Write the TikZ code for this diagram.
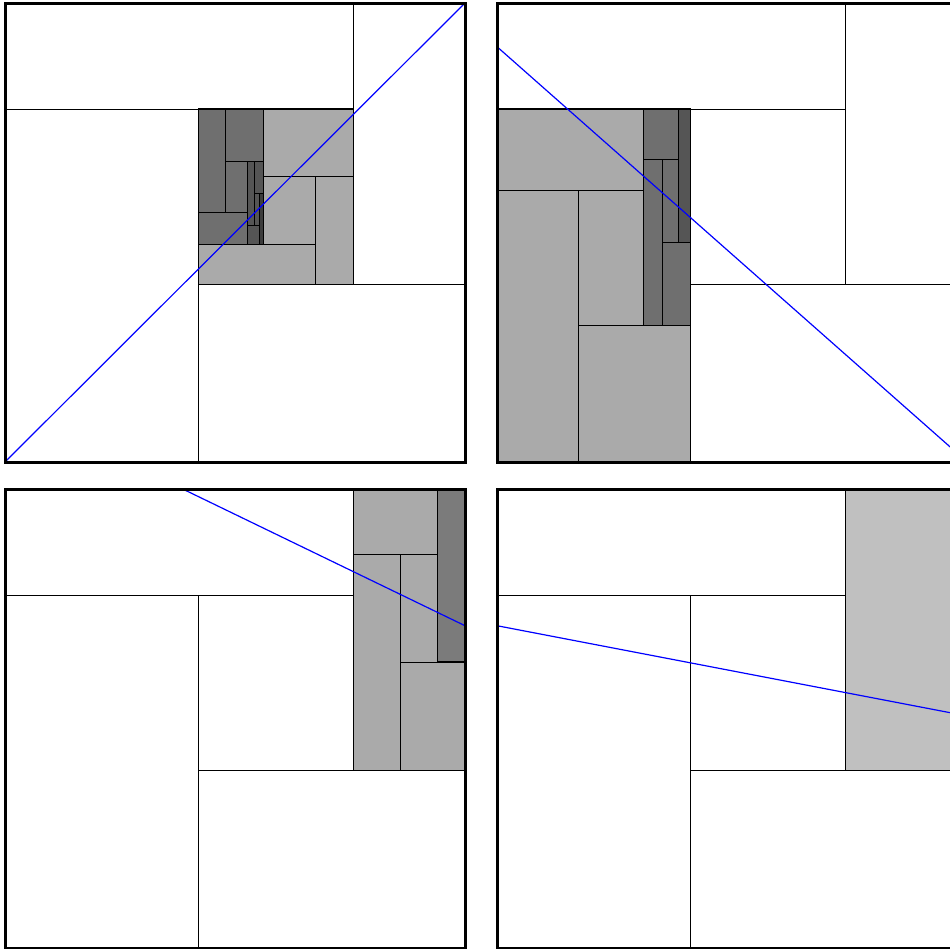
\documentclass[tikz,border=0pt]{standalone}
\usepackage{tikz}
\definecolor{ShadeOne}{RGB}{170,170,170}
\definecolor{ShadeTwo}{RGB}{111,111,111}
\definecolor{ShadeThree}{RGB}{85,85,85}
\definecolor{ShadeFour}{RGB}{60,60,60}
\definecolor{ShadeSide}{RGB}{123,123,123}
\definecolor{ShadePale}{RGB}{192,192,192}
\definecolor{QueryBlue}{RGB}{0,0,255}

% cell split in five: left, top, right, bottom (swap top/bottom to flip)
\newcommand{\pinwheel}[5]{%
	\edef\pwl{#1}\edef\pwt{#2}\edef\pwr{#3}\edef\pwb{#4}%
	\filldraw[fill=#5, cellbox] (\pwl,\pwt) rectangle (\pwr,\pwb);
	\pgfmathsetmacro{\pwxa}{\pwl+0.42*(\pwr-\pwl)}%
	\pgfmathsetmacro{\pwxb}{\pwr-0.243*(\pwr-\pwl)}%
	\pgfmathsetmacro{\pwyc}{\pwt+0.231*(\pwb-\pwt)}%
	\pgfmathsetmacro{\pwyd}{\pwb-0.386*(\pwb-\pwt)}%
	\draw[part] (\pwl,\pwyc) -- (\pwxb,\pwyc) (\pwxb,\pwt) -- (\pwxb,\pwyd)
		(\pwxa,\pwyd) -- (\pwr,\pwyd) (\pwxa,\pwyc) -- (\pwxa,\pwb);}

\begin{document}
\begin{tikzpicture}[x=1pt, y=-1pt,
	part/.style={draw=black, line width=1pt},
	cellbox/.style={draw=black, line width=1.2pt},
	frame/.style={draw=black, line width=3pt},
	query/.style={draw=QueryBlue, line width=1.2pt}]
	\clip (0,0) rectangle (950,948);

	% top left: diagonal through the middle
	\pinwheel{5}{3}{465}{462}{white}
	\pinwheel{\pwxa}{\pwyd}{\pwxb}{\pwyc}{ShadeOne}
	\pinwheel{\pwl}{\pwyc}{\pwxa}{\pwb}{ShadeTwo}
	\pinwheel{\pwxb}{\pwt}{\pwr}{\pwyd}{ShadeThree}
	\filldraw[fill=ShadeFour, cellbox] (\pwxb,\pwt) rectangle (\pwr,\pwyd);

	% top right
	\pinwheel{497}{3}{957}{462}{white}
	\pinwheel{\pwl}{\pwyc}{\pwxa}{\pwb}{ShadeOne}
	\pinwheel{\pwxb}{\pwt}{\pwr}{\pwyd}{ShadeTwo}
	\filldraw[fill=ShadeThree, cellbox] (\pwxb,\pwt) rectangle (\pwr,\pwyd);

	% bottom left
	\pinwheel{5}{489}{465}{948}{white}
	\pinwheel{\pwxb}{\pwt}{\pwr}{\pwyd}{ShadeOne}
	\filldraw[fill=ShadeSide, cellbox] (\pwxb,\pwt) rectangle (\pwr,\pwyd);

	% bottom right
	\pinwheel{497}{489}{957}{948}{white}
	\filldraw[fill=ShadePale, cellbox] (\pwxb,\pwt) rectangle (\pwr,\pwyd);

	% query lines
	\coordinate (diagA) at (5,462);
	\coordinate (diagB) at (465,3);
	\coordinate (fallA) at (497,46.7);
	\coordinate (fallB) at (957,453);
	\coordinate (slopeA) at (182.7,489);
	\coordinate (slopeB) at (465,625.7);
	\coordinate (flatA) at (497,625.7);
	\coordinate (flatB) at (957,714);
	\draw[query] (diagA) -- (diagB);
	\draw[query] (fallA) -- (fallB);
	\draw[query] (slopeA) -- (slopeB);
	\draw[query] (flatA) -- (flatB);

	\foreach \px/\py in {5/3, 497/3, 5/489, 497/489}
		\draw[frame] (\px,\py) rectangle ++(460,459);
\end{tikzpicture}
\end{document}
